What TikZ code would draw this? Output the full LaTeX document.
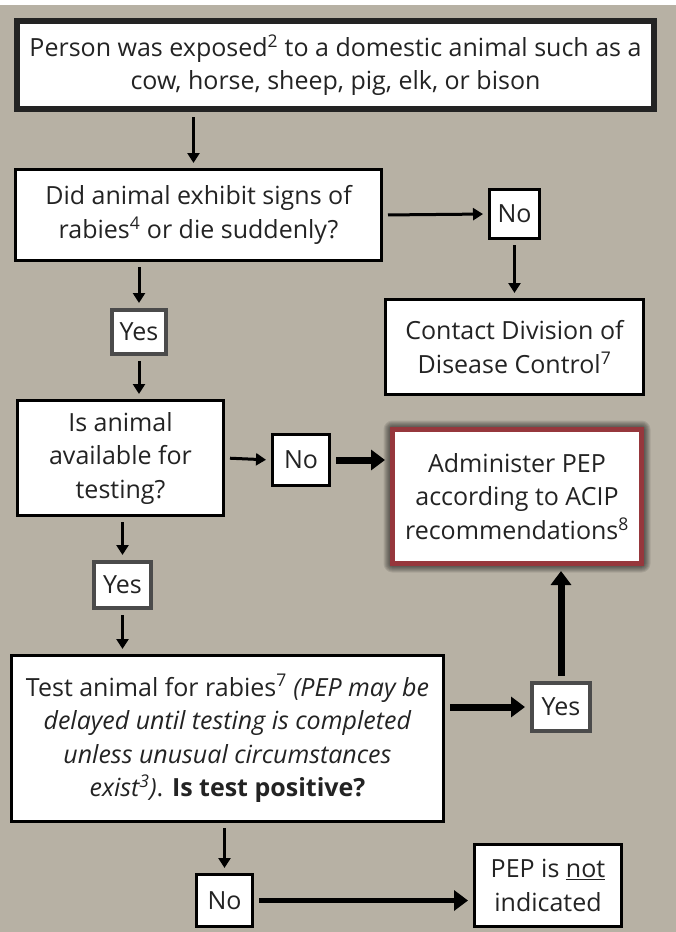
\documentclass[tikz,border=0pt]{standalone}
\usepackage{fontspec}
\setmainfont{Open Sans}
\usetikzlibrary{arrows.meta}

\definecolor{backtan}{RGB}{183,177,164}
\definecolor{inkgray}{RGB}{35,35,35}
\definecolor{yesgray}{RGB}{75,75,75}
\definecolor{pepred}{RGB}{150,55,60}

\tikzset{
  box/.style={draw=black, fill=white, line width=3pt, align=center, inner sep=0pt,
    text=inkgray, font=\fontsize{25}{33.5}\selectfont},
  topbox/.style={box, draw=inkgray, line width=6pt},
  yesbox/.style={box, draw=yesgray, line width=4pt},
  pepbox/.style={box, draw=pepred, line width=5pt},
  arr/.style={line width=3pt, ->, >={Triangle[length=10pt,width=12pt]},
    shorten <=5pt, shorten >=5pt},
  fatarr/.style={line width=7pt, ->, >={Triangle[length=14pt,width=20pt]},
    shorten <=5pt, shorten >=5pt}
}

\begin{document}
\begin{tikzpicture}[x=1pt, y=-1pt]
\useasboundingbox (0,0) rectangle (676,932);
\fill[backtan] (0,0) rectangle (676,932);
\fill[white] (0,0) rectangle (676,5);

% boxes
\node[topbox, minimum width=637pt, minimum height=88pt] (expo) at (335.5,65)
  {Person was exposed\textsuperscript{2} to a domestic animal such as a\\ cow, horse, sheep, pig, elk, or bison};
\node[box, minimum width=366pt, minimum height=91pt] (signs) at (198.5,215)
  {Did animal exhibit signs of\\ rabies\textsuperscript{4} or die suddenly?};
\node[box, minimum width=50pt, minimum height=49pt] (nosigns) at (514.5,214) {No};
\node[box, minimum width=258pt, minimum height=95pt] (contact) at (514.5,347)
  {Contact Division of\\ Disease Control\textsuperscript{7}};
\node[yesbox, minimum width=54pt, minimum height=44pt] (yessigns) at (139,332) {Yes};
\node[box, minimum width=206pt, minimum height=115pt] (avail) at (120.5,458)
  {Is animal\\ available for\\ testing?};
\node[box, minimum width=57pt, minimum height=51pt] (noavail) at (301,460) {No};
% PEP box with soft shadow
\foreach \r in {1,...,9}
  \fill[black, opacity=0.09, rounded corners=\r pt]
    (392.5-\r,429.5-\r) rectangle (641.5+\r,563.5+\r);
\node[pepbox, minimum width=249pt, minimum height=134pt] (pep) at (517,496.5)
  {Administer PEP\\ according to ACIP\\ recommendations\textsuperscript{8}};
\node[yesbox, minimum width=57pt, minimum height=46pt] (yesavail) at (122.5,585) {Yes};
\node[box, minimum width=432pt, minimum height=166pt] (test) at (227.5,738.5)
  {Test animal for rabies\textsuperscript{7} \textit{(PEP may be}\\
   \textit{delayed until testing is completed}\\
   \textit{unless unusual circumstances}\\
   \textit{exist\textsuperscript{3})}. \textbf{Is test positive?}};
\node[yesbox, minimum width=58pt, minimum height=48pt] (yestest) at (561,707) {Yes};
\node[box, minimum width=56pt, minimum height=52pt] (notest) at (224.5,900.5) {No};
\node[box, minimum width=147pt, minimum height=82pt] (notind) at (548,885.5)
  {PEP is \underline{not}\\ indicated};

% connectors
\draw[arr] ([xshift=-5pt]signs.north |- expo.south) -- ([xshift=-5pt]signs.north);
\draw[arr] (signs.east) -- (nosigns.west);
\draw[arr] (nosigns.south) -- (contact.north);
\draw[arr] (yessigns |- signs.south) -- (yessigns.north);
\draw[arr] (yessigns.south) -- (yessigns.south |- avail.north);
\draw[arr] (avail.east) -- (noavail.west);
\draw[fatarr] (noavail.east) -- (noavail.east -| pep.west);
\draw[arr] (yesavail |- avail.south) -- (yesavail.north);
\draw[arr] (yesavail.south) -- (yesavail.south |- test.north);
\draw[fatarr] (test.east |- yestest) -- (yestest.west);
\draw[fatarr] (yestest.north) -- (yestest |- pep.south);
\draw[arr] (notest |- test.south) -- (notest.north);
\draw[fatarr, line width=5pt] (notest.east) -- (notest.east -| notind.west);
\end{tikzpicture}
\end{document}
